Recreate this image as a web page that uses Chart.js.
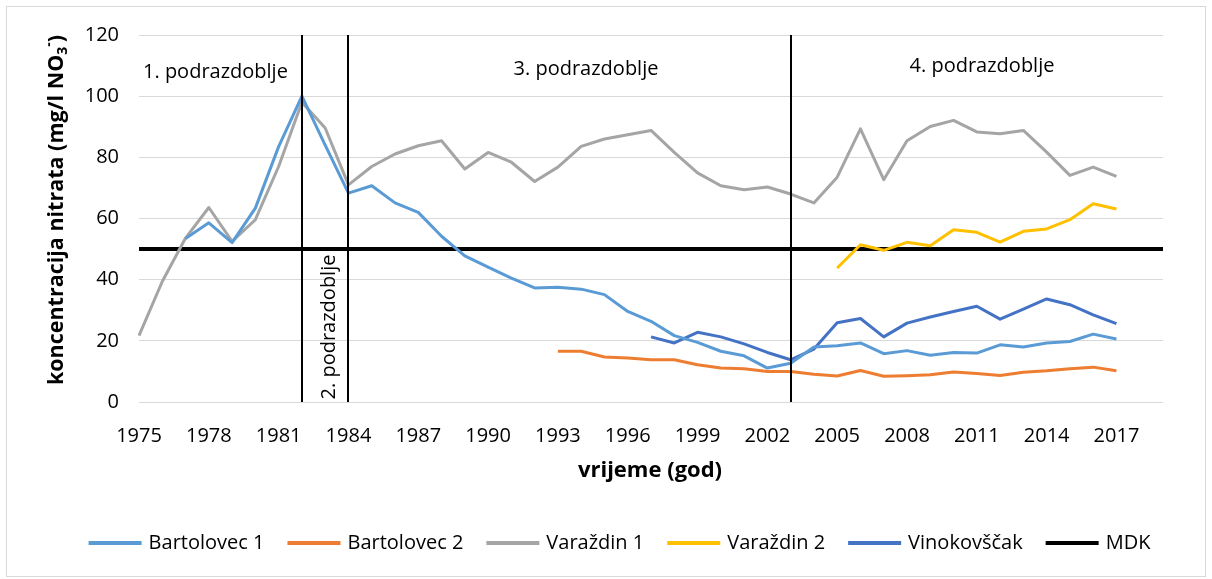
<!DOCTYPE html>
<html><head><meta charset="utf-8">
<script src="https://cdn.jsdelivr.net/npm/chart.js@4/dist/chart.umd.min.js"></script>
<style>html,body{margin:0;padding:0;background:#fff;}canvas{display:block;}</style>
</head><body>
<canvas id="c" width="1212" height="579"></canvas>
<script>
const years = ['1975','1976','1977','1978','1979','1980','1981','1982','1983','1984','1985','1986','1987','1988','1989','1990','1991','1992','1993','1994','1995','1996','1997','1998','1999','2000','2001','2002','2003','2004','2005','2006','2007','2008','2009','2010','2011','2012','2013','2014','2015','2016','2017','2018','2019'];
const tickLabels = ['1975','1978','1981','1984','1987','1990','1993','1996','1999','2002','2005','2008','2011','2014','2017'];
const yTicks = [0,20,40,60,80,100,120];

// series values, each starting at the year given
const bartolovec1Start = '1977';
const bartolovec1 = [53.5,58.6,52.1,63.4,83.5,100,84,68.3,70.7,65.1,62.0,54.2,47.8,44.1,40.5,37.3,37.5,36.9,35.1,29.6,26.4,21.7,19.5,16.6,15.1,11.1,12.7,18.0,18.4,19.3,15.8,16.8,15.3,16.2,16.0,18.7,18.0,19.3,19.8,22.2,20.6];
const bartolovec2Start = '1993';
const bartolovec2 = [16.6,16.6,14.7,14.4,13.8,13.8,12.2,11.1,10.9,10.0,10.0,9.1,8.5,10.3,8.4,8.6,8.9,9.8,9.3,8.7,9.7,10.2,10.9,11.4,10.2];
const varazdin1Start = '1975';
const varazdin1 = [21.7,39.4,53.6,63.6,52.5,59.6,77.0,98.0,89.6,71.0,77.0,81.1,83.8,85.4,76.2,81.6,78.4,72.1,76.8,83.6,86.0,87.4,88.8,81.6,74.9,70.7,69.4,70.3,68.0,65.1,73.5,89.3,72.7,85.4,90.1,92.1,88.3,87.7,88.8,81.7,74.1,76.8,73.8];
const varazdin2Start = '2005';
const varazdin2 = [43.8,51.4,49.6,52.2,51.1,56.3,55.5,52.3,55.8,56.6,59.6,64.8,63.1];
const vinokovscakStart = '1997';
const vinokovscak = [21.3,19.3,22.8,21.3,19.0,16.2,13.8,17.3,25.9,27.3,21.3,25.8,27.8,29.6,31.3,27.1,30.4,33.7,31.8,28.5,25.6];
const mdkLimit = 50;

const seriesNames = ['Bartolovec 1','Bartolovec 2','Varaždin 1','Varaždin 2','Vinokovščak','MDK'];
const seriesColors = ['#5B9BD5','#ED7D31','#A5A5A5','#FFC000','#4472C4','#000000'];

const periodBoundaries = ['1982','1984','2003'];
const periodLabels = ['1. podrazdoblje','2. podrazdoblje','3. podrazdoblje','4. podrazdoblje'];

function placeFrom(start, vals){
  const out = years.map(()=>null);
  const s = years.indexOf(start);
  vals.forEach((v,i)=>{ out[s+i] = v; });
  return out;
}

const FONT = "'Open Sans', sans-serif";

const decor = {
  id:'decor',
  beforeDraw(chart){
    const ctx = chart.ctx;
    ctx.save();
    ctx.fillStyle = '#fff';
    ctx.fillRect(0,0,chart.width,chart.height);
    ctx.strokeStyle = '#d9d9d9';
    ctx.lineWidth = 1;
    ctx.strokeRect(6.5,6.5,1199,570);
    ctx.restore();
  },
  afterDatasetsDraw(chart){
    const ctx = chart.ctx, xs = chart.scales.x, a = chart.chartArea;
    ctx.save();
    ctx.strokeStyle = '#000';
    ctx.lineWidth = 2;
    periodBoundaries.forEach(y=>{
      const px = Math.round(xs.getPixelForValue(years.indexOf(y)));
      ctx.beginPath(); ctx.moveTo(px, a.top); ctx.lineTo(px, a.bottom); ctx.stroke();
    });
    ctx.restore();
  },
  afterDraw(chart){
    const ctx = chart.ctx;
    ctx.save();
    ctx.fillStyle = '#000';
    // period labels
    ctx.font = '20px ' + FONT;
    ctx.textBaseline = 'middle';
    ctx.textAlign = 'left';
    ctx.fillText(periodLabels[0], 143, 72);
    ctx.textAlign = 'center';
    ctx.fillText(periodLabels[2], 586, 69);
    ctx.fillText(periodLabels[3], 982, 66);
    ctx.save();
    ctx.translate(329, 327);
    ctx.rotate(-Math.PI/2);
    ctx.fillText(periodLabels[1], 0, 0);
    ctx.restore();

    // x title
    ctx.font = 'bold 22px ' + FONT;
    ctx.textAlign = 'center';
    ctx.fillText('vrijeme (god)', 650, 471);

    // y title with sub/superscript
    ctx.save();
    ctx.translate(57, 210);
    ctx.rotate(-Math.PI/2);
    const big = 'bold 21.5px ' + FONT, small = 'bold 14px ' + FONT;
    const parts = [
      {t:'koncentracija nitrata (mg/l NO', f:big, dy:0},
      {t:'3', f:small, dy:6},
      {t:'-', f:small, dy:-8},
      {t:')', f:big, dy:0}
    ];
    let total = 0;
    parts.forEach(p=>{ ctx.font = p.f; p.w = ctx.measureText(p.t).width; total += p.w; });
    let x = -total/2;
    ctx.textAlign = 'left';
    parts.forEach(p=>{ ctx.font = p.f; ctx.fillText(p.t, x, p.dy); x += p.w; });
    ctx.restore();

    // legend
    ctx.font = '20px ' + FONT;
    ctx.textAlign = 'left';
    const lineLen = 53, gapText = 7, gapItem = 23, ly = 543;
    const items = chart.data.datasets.map(d=>({label:d.label, color:d.borderColor, w:ctx.measureText(d.label).width}));
    let tw = 0;
    items.forEach((it,i)=>{ tw += lineLen + gapText + it.w + (i<items.length-1?gapItem:0); });
    let lx = 619.5 - tw/2;
    items.forEach(it=>{
      ctx.strokeStyle = it.color;
      ctx.lineWidth = 4;
      ctx.beginPath(); ctx.moveTo(lx, ly); ctx.lineTo(lx+lineLen, ly); ctx.stroke();
      lx += lineLen + gapText;
      ctx.fillStyle = '#000';
      ctx.fillText(it.label, lx, ly);
      lx += it.w + gapItem;
    });
    ctx.restore();
  }
};

const seriesData = [
  placeFrom(bartolovec1Start, bartolovec1),
  placeFrom(bartolovec2Start, bartolovec2),
  placeFrom(varazdin1Start, varazdin1),
  placeFrom(varazdin2Start, varazdin2),
  placeFrom(vinokovscakStart, vinokovscak),
  years.map(()=>mdkLimit)
];

new Chart(document.getElementById('c'), {
  type:'line',
  data:{
    labels: years,
    datasets: seriesNames.map((n,i)=>({
      label:n,
      data: seriesData[i],
      borderColor: seriesColors[i],
      backgroundColor: seriesColors[i],
      borderWidth: i===5 ? 4 : 3,
      pointRadius:0,
      pointHoverRadius:0,
      tension:0,
      borderJoinStyle:'round',
      spanGaps:false,
      fill:false
    }))
  },
  options:{
    responsive:false,
    animation:false,
    devicePixelRatio:1,
    layout:{padding:{left:0, top:35, right:49, bottom:117}},
    plugins:{legend:{display:false}, tooltip:{enabled:false}},
    scales:{
      x:{
        type:'category',
        grid:{display:false, drawTicks:false},
        border:{display:false},
        ticks:{
          autoSkip:false, maxRotation:0, minRotation:0, padding:22,
          color:'#000', font:{family:FONT, size:20},
          callback(v, i){ const l = years[i]; return tickLabels.includes(l) ? l : ''; }
        },
        afterFit(s){ s.height = 60; }
      },
      y:{
        min:0, max:120,
        afterBuildTicks(s){ s.ticks = yTicks.map(v=>({value:v})); },
        grid:{color:'#d9d9d9', lineWidth:1, drawTicks:false},
        border:{display:false},
        ticks:{padding:20, color:'#000', font:{family:FONT, size:20}},
        afterFit(s){ s.width = 139; }
      }
    }
  },
  plugins:[decor]
});
</script>
</body></html>
